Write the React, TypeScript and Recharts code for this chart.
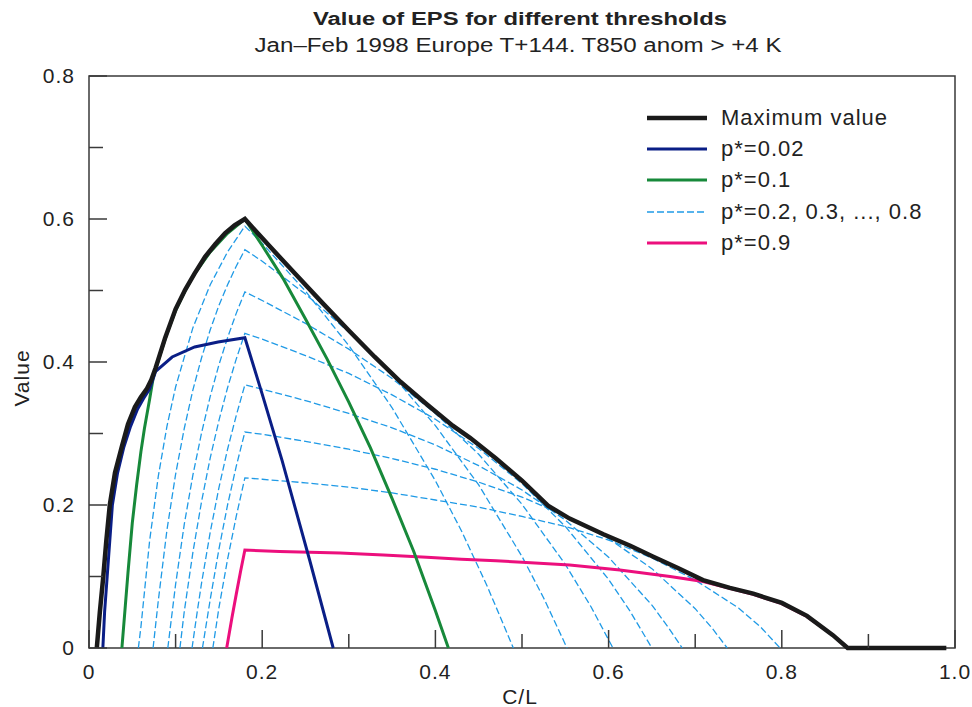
import { Legend, Line, LineChart, ReferenceArea, XAxis, YAxis } from "recharts";

type Pt = [number, number];

// [C/L, value]
const MAX_VALUE: Pt[] = [
  [0.009, 0], [0.0125, 0.05], [0.0165, 0.1], [0.02, 0.15], [0.024, 0.2], [0.03, 0.245],
  [0.038, 0.282], [0.045, 0.313], [0.053, 0.337], [0.06, 0.351], [0.067, 0.363], [0.072, 0.375],
  [0.077, 0.392], [0.088, 0.434], [0.1, 0.474], [0.111, 0.501], [0.122, 0.524], [0.134, 0.547],
  [0.146, 0.565], [0.157, 0.58], [0.168, 0.591], [0.18, 0.6], [0.21, 0.56], [0.24, 0.521],
  [0.27, 0.482], [0.3, 0.444], [0.33, 0.407], [0.36, 0.372], [0.39, 0.341], [0.42, 0.311],
  [0.44, 0.294], [0.47, 0.265], [0.5, 0.234], [0.53, 0.199], [0.555, 0.181], [0.594, 0.159],
  [0.625, 0.143], [0.651, 0.128], [0.68, 0.112], [0.709, 0.095], [0.74, 0.084], [0.767, 0.076],
  [0.8, 0.063], [0.829, 0.045], [0.859, 0.018], [0.876, 0], [0.99, 0],
];

const P_002: Pt[] = [
  [0.016, 0], [0.018, 0.05], [0.021, 0.1], [0.024, 0.15], [0.027, 0.2], [0.033, 0.245],
  [0.04, 0.28], [0.048, 0.31], [0.056, 0.334], [0.063, 0.349], [0.07, 0.362], [0.077, 0.387],
  [0.096, 0.407], [0.122, 0.421], [0.149, 0.428], [0.18, 0.434], [0.2, 0.355], [0.223, 0.262],
  [0.255, 0.122], [0.282, 0],
];

const P_01: Pt[] = [
  [0.038, 0], [0.042, 0.06], [0.045, 0.105], [0.05, 0.175], [0.055, 0.228], [0.06, 0.275],
  [0.064, 0.307], [0.07, 0.348], [0.074, 0.377], [0.08, 0.402], [0.09, 0.44], [0.1, 0.472],
  [0.11, 0.497], [0.12, 0.52], [0.14, 0.554], [0.16, 0.58], [0.18, 0.6], [0.2, 0.563],
  [0.224, 0.517], [0.25, 0.46], [0.275, 0.404], [0.3, 0.344], [0.325, 0.28], [0.35, 0.209],
  [0.375, 0.135], [0.4, 0.052], [0.415, 0],
];

const P_02: Pt[] = [
  [0.057, 0], [0.06, 0.03], [0.065, 0.09], [0.07, 0.15], [0.08, 0.24], [0.09, 0.31], [0.1, 0.365],
  [0.12, 0.448], [0.14, 0.508], [0.16, 0.554], [0.18, 0.59], [0.2, 0.566], [0.25, 0.499],
  [0.3, 0.423], [0.35, 0.336], [0.4, 0.234], [0.43, 0.164], [0.46, 0.086], [0.49, 0],
];
const P_03: Pt[] = [
  [0.074, 0], [0.08, 0.066], [0.09, 0.165], [0.1, 0.243], [0.11, 0.307], [0.12, 0.361],
  [0.13, 0.406], [0.14, 0.445], [0.15, 0.479], [0.16, 0.508], [0.17, 0.534], [0.18, 0.557],
  [0.2, 0.541], [0.25, 0.495], [0.3, 0.442], [0.35, 0.382], [0.4, 0.311], [0.45, 0.228],
  [0.5, 0.128], [0.525, 0.07], [0.552, 0],
];
const P_04: Pt[] = [
  [0.091, 0], [0.1, 0.089], [0.11, 0.173], [0.12, 0.242], [0.13, 0.301], [0.14, 0.352],
  [0.15, 0.396], [0.16, 0.434], [0.17, 0.468], [0.18, 0.498], [0.2, 0.486], [0.25, 0.454],
  [0.3, 0.418], [0.35, 0.377], [0.4, 0.328], [0.45, 0.271], [0.5, 0.201], [0.55, 0.117],
  [0.58, 0.057], [0.605, 0],
];
const P_05: Pt[] = [
  [0.105, 0], [0.11, 0.051], [0.12, 0.134], [0.13, 0.205], [0.14, 0.266], [0.15, 0.318],
  [0.16, 0.364], [0.17, 0.404], [0.18, 0.44], [0.2, 0.432], [0.25, 0.409], [0.3, 0.384],
  [0.35, 0.354], [0.4, 0.32], [0.45, 0.279], [0.5, 0.23], [0.55, 0.17], [0.6, 0.096],
  [0.625, 0.051], [0.65, 0],
];
const P_06: Pt[] = [
  [0.119, 0], [0.125, 0.051], [0.13, 0.091], [0.14, 0.162], [0.15, 0.224], [0.16, 0.278],
  [0.17, 0.325], [0.18, 0.368], [0.2, 0.362], [0.25, 0.346], [0.3, 0.328], [0.35, 0.308],
  [0.4, 0.284], [0.45, 0.255], [0.5, 0.221], [0.55, 0.179], [0.6, 0.127], [0.65, 0.06],
  [0.67, 0.027], [0.685, 0],
];
const P_07: Pt[] = [
  [0.131, 0], [0.14, 0.068], [0.15, 0.138], [0.16, 0.2], [0.17, 0.254], [0.18, 0.302],
  [0.2, 0.299], [0.25, 0.289], [0.3, 0.278], [0.35, 0.265], [0.4, 0.25], [0.45, 0.232],
  [0.5, 0.211], [0.55, 0.185], [0.6, 0.153], [0.65, 0.111], [0.7, 0.055], [0.72, 0.027],
  [0.737, 0],
];
const P_08: Pt[] = [
  [0.143, 0], [0.15, 0.056], [0.16, 0.124], [0.17, 0.184], [0.18, 0.238], [0.2, 0.236],
  [0.25, 0.231], [0.3, 0.225], [0.35, 0.217], [0.4, 0.207], [0.45, 0.197], [0.5, 0.184],
  [0.55, 0.17], [0.6, 0.151], [0.65, 0.126], [0.7, 0.095], [0.75, 0.056], [0.775, 0.03],
  [0.798, 0],
];

const P_09: Pt[] = [
  [0.159, 0], [0.165, 0.042], [0.17, 0.075], [0.175, 0.107], [0.18, 0.137], [0.22, 0.135],
  [0.29, 0.133], [0.34, 0.13], [0.39, 0.127], [0.43, 0.124], [0.47, 0.122], [0.5, 0.12],
  [0.555, 0.116], [0.613, 0.109], [0.671, 0.1], [0.709, 0.093], [0.767, 0.075], [0.8, 0.062],
  [0.829, 0.044], [0.859, 0.018], [0.876, 0],
];

const DASHED = [P_02, P_03, P_04, P_05, P_06, P_07, P_08];

const X_TICKS = [0, 0.1, 0.2, 0.3, 0.4, 0.5, 0.6, 0.7, 0.8, 0.9, 1];
const X_TICK_LABELS = ["0", "", "0.2", "", "0.4", "", "0.6", "", "0.8", "", "1.0"];
const Y_TICKS = [0, 0.1, 0.2, 0.3, 0.4, 0.5, 0.6, 0.7, 0.8];
const Y_TICK_LABELS = ["0", "", "0.2", "", "0.4", "", "0.6", "", "0.8"];

const LEGEND_ITEMS = [
  { label: "Maximum value", color: "#1a1a1a", width: 4.5, dash: undefined },
  { label: "p*=0.02", color: "#0a1e86", width: 3, dash: undefined },
  { label: "p*=0.1", color: "#17893a", width: 3, dash: undefined },
  { label: "p*=0.2, 0.3, ..., 0.8", color: "#1f9ae6", width: 1.3, dash: "7 3" },
  { label: "p*=0.9", color: "#ec0f7d", width: 3, dash: undefined },
];

const FONT = "'Liberation Sans', Arial, Helvetica, sans-serif";
const AXIS = "#3a3a3a";

const toPts = (pts: Pt[]) => pts.map(([x, y]) => ({ x, y }));

const XTick = (props: any) => {
  const { x, y, index } = props;
  const label = X_TICK_LABELS[index];
  const len = label ? 18 : 14;
  return (
    <g>
      <line x1={x} x2={x} y1={y} y2={y - len} stroke={AXIS} strokeWidth={1.5} />
      {label && (
        <text x={x} y={y + 31} textAnchor="middle" fontSize={21} letterSpacing={1} fontFamily={FONT} fill="#222">
          {label}
        </text>
      )}
    </g>
  );
};

const YTick = (props: any) => {
  const { x, y, index } = props;
  const label = Y_TICK_LABELS[index];
  const len = label ? 18 : 14;
  return (
    <g>
      <line x1={x} x2={x + len} y1={y} y2={y} stroke={AXIS} strokeWidth={1.5} />
      {label && (
        <text x={x - 14} y={y + 7} textAnchor="end" fontSize={21} letterSpacing={1} fontFamily={FONT} fill="#222">
          {label}
        </text>
      )}
    </g>
  );
};

const renderLegend = () => (
  <div style={{ fontFamily: FONT, fontSize: 22, letterSpacing: 1, color: "#222" }}>
    {LEGEND_ITEMS.map((item) => (
      <div key={item.label} style={{ display: "flex", alignItems: "center", height: 31.3 }}>
        <svg width={64} height={10}>
          <line x1={2} x2={62} y1={5} y2={5} stroke={item.color} strokeWidth={item.width} strokeDasharray={item.dash} />
        </svg>
        <span style={{ marginLeft: 12, whiteSpace: "nowrap" }}>{item.label}</span>
      </div>
    ))}
  </div>
);

export default function App() {
  return (
    <div style={{ position: "absolute", left: 0, top: 0, width: 972, height: 707, background: "#fff" }}>
      <LineChart width={972} height={707} margin={{ top: 76, right: 17, bottom: 19, left: 29 }}>
        <XAxis
          dataKey="x"
          type="number"
          domain={[0, 1]}
          ticks={X_TICKS}
          interval={0}
          tick={XTick}
          tickLine={false}
          axisLine={false}
          tickSize={0}
          tickMargin={0}
          height={40}
        />
        <YAxis
          type="number"
          domain={[0, 0.8]}
          ticks={Y_TICKS}
          interval={0}
          tick={YTick}
          tickLine={false}
          axisLine={false}
          tickSize={0}
          tickMargin={0}
          width={60}
        />
        <ReferenceArea x1={0} x2={1} y1={0} y2={0.8} fill="none" stroke={AXIS} strokeWidth={1.5} />
        {DASHED.map((pts, i) => (
          <Line
            key={`dash${i}`}
            data={toPts(pts)}
            dataKey="y"
            type="linear"
            stroke="#1f9ae6"
            strokeWidth={1.3}
            strokeDasharray="7 3"
            dot={false}
            activeDot={false}
            isAnimationActive={false}
          />
        ))}
        <Line data={toPts(P_09)} dataKey="y" type="linear" stroke="#ec0f7d" strokeWidth={3} dot={false} activeDot={false} isAnimationActive={false} />
        <Line data={toPts(P_01)} dataKey="y" type="linear" stroke="#17893a" strokeWidth={3} dot={false} activeDot={false} isAnimationActive={false} />
        <Line data={toPts(P_002)} dataKey="y" type="linear" stroke="#0a1e86" strokeWidth={3} dot={false} activeDot={false} isAnimationActive={false} />
        <Line data={toPts(MAX_VALUE)} dataKey="y" type="linear" stroke="#1a1a1a" strokeWidth={4.5} dot={false} activeDot={false} isAnimationActive={false} />
        <Legend
          layout="horizontal"
          align="center"
          verticalAlign="middle"
          content={renderLegend}
          wrapperStyle={{ left: 645, top: 102, width: 320 }}
        />
      </LineChart>
      <svg
        width={972}
        height={707}
        style={{ position: "absolute", left: 0, top: 0, pointerEvents: "none" }}
        fontFamily={FONT}
        fill="#222"
      >
        <text x={520} y={25} textAnchor="middle" fontSize={18} fontWeight="bold" textLength={414} lengthAdjust="spacingAndGlyphs">
          Value of EPS for different thresholds
        </text>
        <text x={518} y={52} textAnchor="middle" fontSize={20} textLength={527} lengthAdjust="spacingAndGlyphs">
          Jan–Feb 1998 Europe T+144. T850 anom &gt; +4 K
        </text>
        <text x={520} y={704} textAnchor="middle" fontSize={21} letterSpacing={1}>
          C/L
        </text>
        <text x={29} y={378} textAnchor="middle" fontSize={21} letterSpacing={1} transform="rotate(-90 29 378)">
          Value
        </text>
      </svg>
    </div>
  );
}
